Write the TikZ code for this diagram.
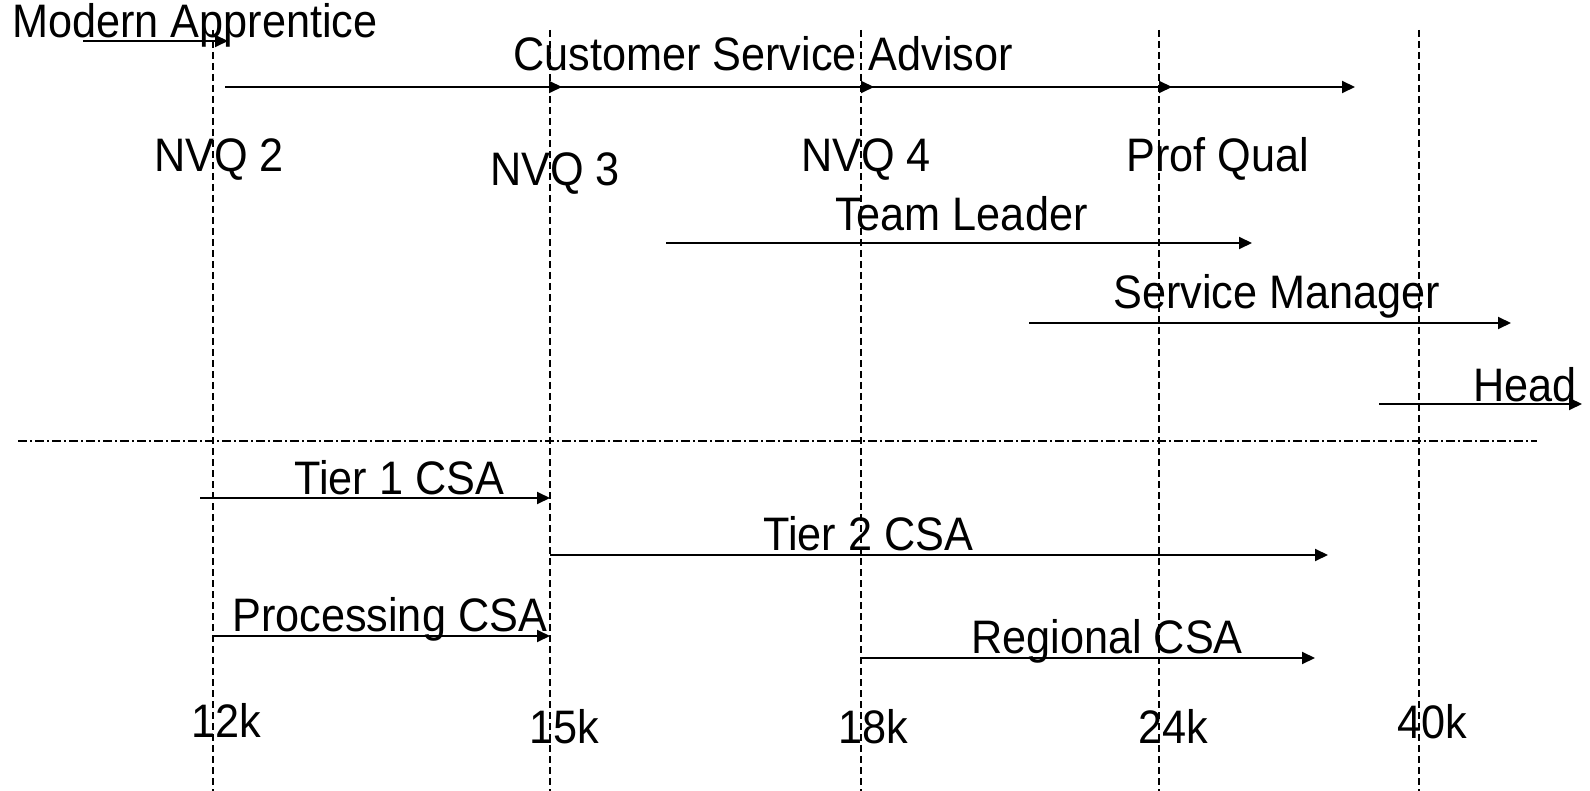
\documentclass[tikz,border=0pt]{standalone}
\usepackage{fontspec}
\setmainfont{Liberation Sans}
\usetikzlibrary{arrows.meta}
\tikzset{
  lbl/.style={anchor=base west, inner sep=0pt, font=\fontsize{47}{47}\selectfont, xscale=0.92},
  arr/.style={line width=1.9pt, -{Triangle[length=13pt,width=12pt]}},
  gridline/.style={dash pattern=on 7pt off 4pt, line width=1.4pt},
  sepline/.style={dash pattern=on 9pt off 3pt on 2pt off 3pt, line width=1.4pt}
}
\begin{document}
\begin{tikzpicture}[x=1pt,y=-1pt]
\useasboundingbox (0,0) rectangle (1590,791);
% vertical salary lines
\foreach \n/\x in {a/213,b/550,c/861,d/1159,e/1419}{
  \coordinate (\n top) at (\x,30);
  \coordinate (\n bot) at (\x,791);
  \draw[gridline] (\n top) -- (\n bot);
}
% separator
\coordinate (sepL) at (18,441);
\coordinate (sepR) at (1537,441);
\draw[sepline] (sepL) -- (sepR);

% labels
\node[lbl] (ma) at (12,38) {Modern Apprentice};
\node[lbl] (csa) at (513,71) {Customer Service Advisor};
\node[lbl] (nvq2) at (154,172) {NVQ 2};
\node[lbl] (nvq3) at (490,186) {NVQ 3};
\node[lbl] (nvq4) at (801,172) {NVQ 4};
\node[lbl] (prof) at (1126,172) {Prof Qual};
\node[lbl] (tl) at (835,231) {Team Leader};
\node[lbl] (sm) at (1113,309) {Service Manager};
\node[lbl] (head) at (1473,402) {Head};
\node[lbl] (t1) at (294,494) {Tier 1 CSA};
\node[lbl] (t2) at (763,550) {Tier 2 CSA};
\node[lbl] (proc) at (232,631) {Processing CSA};
\node[lbl] (reg) at (971,653) {Regional CSA};
\node[lbl] (k12) at (191,737) {12k};
\node[lbl] (k15) at (529,743) {15k};
\node[lbl] (k18) at (838,743) {18k};
\node[lbl] (k24) at (1138,743) {24k};
\node[lbl] (k40) at (1397,738) {40k};

% arrow end points
\coordinate (ma1) at (83,41);   \coordinate (ma2) at (228,41);
\coordinate (c0) at (225,87);   \coordinate (c1) at (562,87);
\coordinate (c1s) at (550,87);  \coordinate (c2) at (874,87);
\coordinate (c2s) at (861,87);  \coordinate (c3) at (1172,87);
\coordinate (c3s) at (1159,87); \coordinate (c4) at (1355,87);
\coordinate (tl1) at (666,243); \coordinate (tl2) at (1252,243);
\coordinate (sm1) at (1029,323); \coordinate (sm2) at (1511,323);
\coordinate (hd1) at (1379,404); \coordinate (hd2) at (1582,404);
\coordinate (ta1) at (200,498); \coordinate (ta2) at (550,498);
\coordinate (tb1) at (550,555); \coordinate (tb2) at (1328,555);
\coordinate (pr1) at (213,636); \coordinate (pr2) at (550,636);
\coordinate (rg1) at (861,658); \coordinate (rg2) at (1315,658);

\draw[arr] (ma1) -- (ma2);
\draw[arr] (c0) -- (c1);
\draw[arr] (c1s) -- (c2);
\draw[arr] (c2s) -- (c3);
\draw[arr] (c3s) -- (c4);
\draw[arr] (tl1) -- (tl2);
\draw[arr] (sm1) -- (sm2);
\draw[arr] (hd1) -- (hd2);
\draw[arr] (ta1) -- (ta2);
\draw[arr] (tb1) -- (tb2);
\draw[arr] (pr1) -- (pr2);
\draw[arr] (rg1) -- (rg2);
\end{tikzpicture}
\end{document}
